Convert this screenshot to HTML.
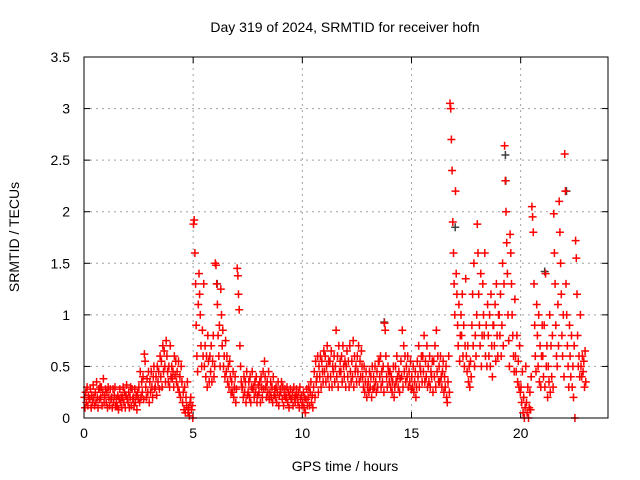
<!DOCTYPE html>
<html><head><meta charset="utf-8"><style>
body{margin:0;background:#fff;}
svg{display:block;font-family:"Liberation Sans",sans-serif;}
</style></head><body>
<svg id="chart" width="640" height="480" viewBox="0 0 640 480">
<text x="345" y="32" text-anchor="middle" font-size="14">Day 319 of 2024, SRMTID for receiver hofn</text>
<text x="345" y="471" text-anchor="middle" font-size="14">GPS time / hours</text>
<text transform="translate(19,237) rotate(-90)" text-anchor="middle" font-size="14">SRMTID / TECUs</text>
<g id="grid"></g><g id="ticks"></g><g id="marks"></g>
<rect x="84" y="57" width="524" height="361" fill="none" stroke="#000" stroke-width="1"/>
</svg>
<script>
const xTicks=[0,5,10,15,20];
const yTicks=[0,0.5,1,1.5,2,2.5,3,3.5];
const yTickLabels=["0","0.5","1","1.5","2","2.5","3","3.5"];
const binWidth=0.25;
const redBins=[
[.2,.1,.25,.15,.3,.12,.22,.18],[.18,.28,.1,.22,.15,.32,.2,.12],[.25,.15,.35,.2,.1,.28,.18,.3],[.2,.3,.12,.25,.38,.15,.22,.28],
[.15,.25,.1,.3,.2,.12,.28,.18],[.2,.1,.28,.15,.22,.3,.12,.18],[.12,.22,.08,.18,.28,.15,.2,.1],[.2,.3,.15,.25,.1,.22,.32,.18],
[.15,.25,.1,.2,.3,.12,.28,.18],[.2,.12,.28,.15,.22,.08,.25,.18],[.3,.15,.45,.2,.35,.25,.4,.18],[.62,.55,.3,.2,.38,.25,.45,.15],
[.35,.25,.45,.3,.2,.4,.5,.28],[.3,.4,.22,.5,.35,.45,.28,.6],[.4,.55,.3,.7,.45,.65,.5,.35],[.75,.6,.45,.35,.5,.3,.7,.4],
[.5,.38,.45,.3,.6,.42,.55,.35],[.45,.3,.55,.25,.4,.2,.5,.35],[.15,.25,.08,.3,.05,.2,.12,.35],[.05,.1,.02,.15,.2,.08,.12,0],
[1.88,1.92,1.6,1.3,.9,.6,.45,1.1],[1.4,1.2,1.0,.7,.5,.85,.6,1.3],[.5,.7,.4,.6,.3,.8,.55,.35],[.6,.45,.7,.35,.55,.8,.4,.5],
[1.5,1.48,1.3,1.1,.8,.6,.9,.5],[1.25,1.0,.7,.85,.5,.6,.4,.75],[.45,.6,.35,.5,.3,.55,.4,.25],[.35,.25,.45,.2,.3,.4,.15,.28],
[1.45,1.38,1.2,1.05,.7,.5,.35,.3],[.3,.2,.4,.25,.35,.15,.45,.22],[.25,.35,.2,.4,.15,.3,.45,.28],[.3,.2,.35,.25,.4,.15,.22,.32],
[.25,.35,.15,.4,.3,.2,.45,.28],[.55,.4,.3,.2,.35,.25,.45,.18],[.25,.35,.2,.3,.15,.4,.22,.28],[.2,.3,.15,.25,.35,.12,.22,.28],
[.25,.35,.18,.3,.12,.22,.28,.2],[.2,.3,.15,.25,.1,.22,.28,.18],[.18,.25,.12,.3,.2,.15,.22,.28],[.2,.15,.25,.1,.3,.18,.22,.12],
[.15,.25,.1,.2,.05,.18,.28,.12],[.2,.3,.12,.25,.35,.15,.22,.1],[.3,.45,.2,.55,.35,.4,.6,.25],[.5,.4,.6,.3,.55,.45,.35,.65],
[.45,.6,.35,.5,.7,.4,.55,.3],[.55,.4,.65,.3,.5,.45,.6,.35],[.5,.85,.4,.6,.3,.7,.45,.55],[.45,.6,.35,.7,.5,.4,.55,.3],
[.5,.65,.4,.55,.3,.7,.45,.35],[.55,.4,.75,.3,.6,.45,.5,.35],[.6,.45,.7,.35,.55,.4,.65,.5],[.4,.3,.5,.25,.35,.45,.2,.3],
[.35,.25,.45,.3,.4,.2,.5,.28],[.4,.3,.5,.35,.25,.45,.3,.55],[.55,.4,.6,.3,.45,.35,.5,.25],[.92,.85,.6,.4,.3,.5,.45,.35],
[.45,.3,.4,.25,.35,.5,.2,.3],[.5,.35,.6,.4,.3,.45,.25,.38],[.55,.4,.85,.3,.7,.45,.6,.35],[.5,.4,.6,.3,.45,.35,.55,.28],
[.4,.3,.5,.25,.35,.45,.2,.3],[.55,.4,.7,.3,.5,.45,.6,.35],[.6,.45,.8,.35,.55,.4,.7,.3],[.5,.35,.6,.3,.45,.4,.55,.25],
[.55,.4,.7,.3,.85,.45,.6,.35],[.5,.35,.6,.4,.3,.45,.55,.25],[.4,.3,.5,.2,.15,.35,.6,.25],[3.05,3.0,2.7,2.4,1.9,1.6,1.3,1.0],
[2.2,1.4,1.2,.9,.7,1.1,.55,.8],[1.0,.8,1.2,.6,.9,.5,.7,1.35],[.6,.45,.7,.35,.5,.3,.55,.4],[.9,1.2,.7,1.5,.5,.8,.6,1.0],
[1.88,1.6,1.2,.9,.7,1.4,.5,.8],[1.3,1.0,.8,1.6,.6,.9,.5,1.1],[.8,.6,1.0,.5,1.2,.7,.4,.9],[.9,.7,1.1,.55,1.3,.8,.6,1.0],
[1.0,.8,1.2,.6,.9,1.5,.7,1.3],[2.64,2.3,2.0,1.7,1.4,1.0,.75,.5],[1.78,1.6,1.3,1.0,.8,.6,.45,1.15],[.6,.45,.8,.35,.55,.3,.7,.25],
[.3,.15,.45,.05,.2,0,.1,.5],[.15,.05,.3,0,.1,.25,.08,.4],[2.05,1.95,1.8,1.3,.9,.6,.45,1.1],[.8,.5,1.0,.35,.7,.3,.6,.9],
[.6,.4,.9,.3,1.4,.5,.7,.2],[.5,.35,1.0,.25,.7,.4,.8,.3],[1.98,1.6,1.3,.9,.6,.5,1.1,.7],[2.1,1.8,1.5,1.2,.8,.6,1.0,.4],
[2.56,2.2,1.3,1.0,.7,.5,.3,.9],[.6,.4,.8,.3,.5,.2,.7,0],[1.72,1.55,1.2,.8,.5,.6,.4,1.0],[.5,.4,.6,.45,.55,.3,.65,.35]
];
const grayTimes=[13.75,19.3,19.32,22.1,21.1,6.1,17.0];
const grayValues=[0.93,2.55,2.3,2.2,1.42,1.3,1.85];

const NS="http://www.w3.org/2000/svg";
const X0=84,X1=608,Y0=418,Y1=57,XMAX=24,YMAX=3.5;
function xs(v){return X0+(X1-X0)*v/XMAX;}
function ys(v){return Y0-(Y0-Y1)*v/YMAX;}
const grid=document.getElementById('grid'),ticks=document.getElementById('ticks'),marks=document.getElementById('marks');
function mk(tag,attrs,parent){const e=document.createElementNS(NS,tag);for(const k in attrs)e.setAttribute(k,attrs[k]);parent.appendChild(e);return e;}
xTicks.forEach(t=>{
  const x=xs(t);
  if(t>0){const g=mk('line',{x1:x,x2:x,y1:Y0,y2:Y1,stroke:'#a0a0a0','stroke-dasharray':'2,4'},grid);
  
  }
  mk('line',{x1:x,x2:x,y1:Y0,y2:Y0-6,stroke:'#000'},ticks);
  mk('line',{x1:x,x2:x,y1:Y1,y2:Y1+6,stroke:'#000'},ticks);
  const l=mk('text',{x:x,y:Y0+20,'text-anchor':'middle','font-size':'14'},ticks);l.textContent=t;
  
  
});
yTicks.forEach((t,i)=>{
  const y=ys(t);
  if(t>0&&t<YMAX){const g=mk('line',{x1:X0,x2:X1,y1:y,y2:y,stroke:'#a0a0a0','stroke-dasharray':'2,4'},grid);
  
  }
  mk('line',{x1:X0,x2:X0+6,y1:y,y2:y,stroke:'#000'},ticks);
  mk('line',{x1:X1,x2:X1-6,y1:y,y2:y,stroke:'#000'},ticks);
  const l=mk('text',{x:70,y:y+5,'text-anchor':'end','font-size':'14'},ticks);l.textContent=yTickLabels[i];
  
  
});
function crossPath(pts){let d='';pts.forEach(p=>{const x=xs(p[0]),y=ys(p[1]);d+=`M${(x-4).toFixed(1)},${y.toFixed(1)}h8M${x.toFixed(1)},${(y-4).toFixed(1)}v8`;});return d;}
const grayPts=grayTimes.map((t,i)=>[t,grayValues[i]]);
const gp=mk('path',{d:crossPath(grayPts),stroke:'#404040','stroke-width':'1.5',fill:'none'},marks);


const redPts=[];
redBins.forEach((vals,i)=>{vals.forEach((v,j)=>{redPts.push([i*binWidth+(j+0.5)/vals.length*binWidth,v]);});});
const rp=mk('path',{d:crossPath(redPts),stroke:'#ff0000','stroke-width':'1.5',fill:'none'},marks);


</script>
</body></html>
